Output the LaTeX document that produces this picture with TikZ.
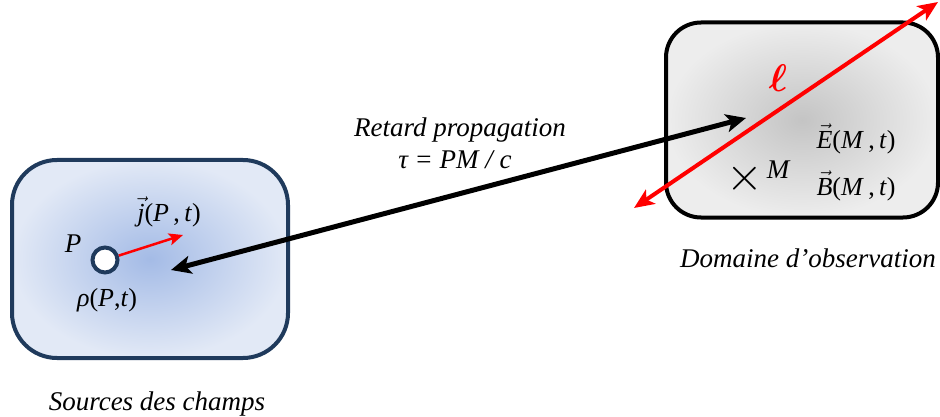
\documentclass[tikz,border=0pt]{standalone}
\usepackage{amsmath}
\usepackage{bm}
\usepackage{fontspec}
\setmainfont{Liberation Serif}
\usetikzlibrary{arrows.meta}
\definecolor{navy}{HTML}{1F3A5C}
\definecolor{boxred}{HTML}{FF0000}
\definecolor{srcin}{HTML}{A4BBE6}
\definecolor{srcout}{HTML}{E2E9F6}
\definecolor{obsin}{HTML}{C4C4C4}
\definecolor{obsout}{HTML}{EDEDED}
\begin{document}
\begin{tikzpicture}[x=1pt,y=-1pt,
  lbl/.style={inner sep=0pt,font=\fontsize{27}{32}\selectfont\itshape},
  mlbl/.style={inner sep=0pt,font=\fontsize{26}{30}\selectfont},
  srcbox/.style={draw=navy,line width=4pt,rounded corners=45pt,inner color=srcin,outer color=srcout},
  obsbox/.style={draw=black,line width=4pt,rounded corners=35pt,inner color=obsin,outer color=obsout},
  bigarrow/.style={line width=5pt,{Stealth[length=20pt,width=18pt,inset=5pt]}-{Stealth[length=20pt,width=18pt,inset=5pt]}},
  redarrow/.style={boxred,line width=4pt,{Stealth[length=20pt,width=17pt,inset=5pt]}-{Stealth[length=20pt,width=17pt,inset=5pt]}}
]
\useasboundingbox (0,0) rectangle (940,417);
% boxes
\node[srcbox,minimum width=276pt,minimum height=198pt] (src) at (150,259) {};
\node[obsbox,minimum width=272pt,minimum height=195pt] (obs) at (802,120) {};
% point P
\node[circle,draw=navy,line width=4pt,fill=white,minimum size=25pt,inner sep=0pt] (p) at (105,260) {};
\node[lbl] (plbl) at (73,244) {P};
\node[mlbl] (rho) at (107,300) {\textit{ρ}(\textit{P},\textit{t})};
\node[mlbl] (jlbl) at (169,212) {$\vec{\text{\itshape j}}$(\textit{P}\,,\,\textit{t})};
\coordinate (jtip) at (183,235);
\draw[boxred,line width=2.5pt,-{Stealth[length=14pt,width=12pt,inset=3pt]}] (p) -- (jtip);
% propagation arrow
\coordinate (a1) at (171,270);
\coordinate (a2) at (746,118);
\draw[bigarrow] (a1) -- (a2);
\node[lbl] (ret) at (460,130) {Retard propagation};
\node[lbl] (tau) at (455,160) {τ = PM / c};
% red line
\coordinate (r1) at (634,208);
\coordinate (r2) at (938,2);
\draw[redarrow] (r1) -- (r2);
\node[inner sep=0pt,text=boxred,font=\fontsize{24}{28}\selectfont,scale=1.55] (ell) at (778,78) {$\bm{\ell}$};
% M
\node[inner sep=0pt,font=\fontsize{24}{28}\selectfont,scale=1.9] (cross) at (745,179) {$\times$};
\node[lbl] (mlab) at (778,170) {M};
\node[mlbl] (elbl) at (856,139) {$\vec{\text{\itshape E}}$(\textit{M}\,,\,\textit{t})};
\node[mlbl] (blbl) at (856,186) {$\vec{\text{\itshape B}}$(\textit{M}\,,\,\textit{t})};
% captions
\node[lbl] (dom) at (808,258) {Domaine d’observation};
\node[lbl] (srcs) at (157,404) {Sources des champs};
\end{tikzpicture}
\end{document}
